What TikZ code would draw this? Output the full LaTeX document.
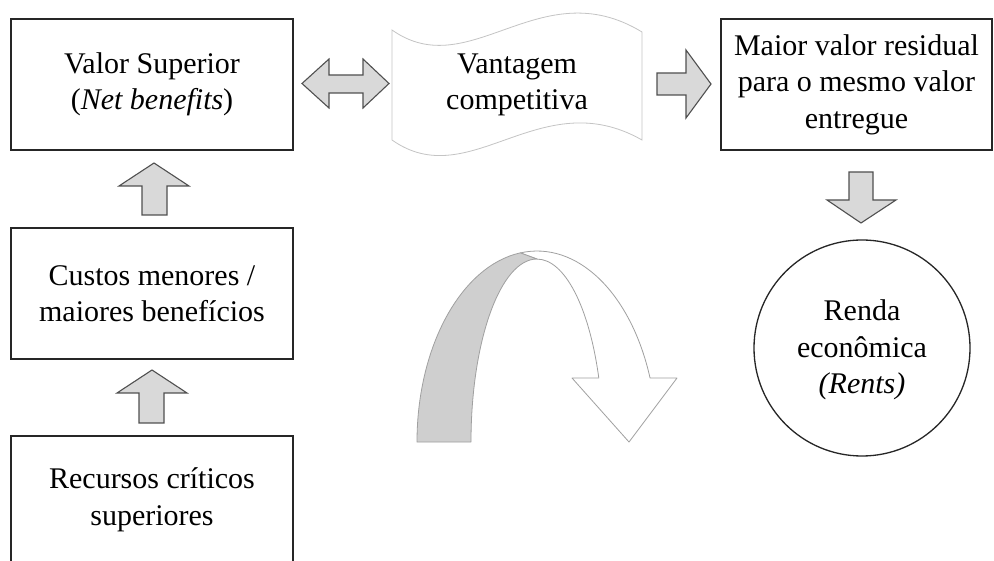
\documentclass[tikz,border=0pt]{standalone}
\usepackage{fontspec}
\setmainfont{Liberation Serif}
\definecolor{arrowfill}{HTML}{D9D9D9}
\definecolor{arrowline}{HTML}{505050}
\definecolor{ribbonline}{HTML}{A0A0A0}
\definecolor{ribbonfill}{HTML}{CFCFCF}
\definecolor{flagline}{HTML}{C4C4C4}
\begin{document}
\begin{tikzpicture}[x=1pt,y=-1pt,
  box/.style={draw=black!85, line width=1.3pt, rectangle, align=center, inner sep=0pt,
              font=\fontsize{30}{36.5}\selectfont},
  txt/.style={align=center, inner sep=0pt, font=\fontsize{30}{36.5}\selectfont},
  blockarrow/.style={draw=arrowline, fill=arrowfill, line width=1.1pt, line join=miter},
  ribbon/.style={draw=ribbonline, line width=0.8pt, line join=round}]
\clip (0,0) rectangle (994,561);
\fill[white] (0,0) rectangle (994,561);

% left column boxes
\node[box, minimum width=282pt, minimum height=131pt] (valor) at (152,84.5)
  {Valor Superior\\(\textit{Net benefits})};
\node[box, minimum width=282pt, minimum height=131pt] (custos) at (152,293.5)
  {Custos menores /\\maiores benefícios};
\node[box, minimum width=282pt, minimum height=128pt] (recursos) at (152,500)
  {Recursos críticos\\superiores};

% up arrows
\draw[blockarrow] (142,215) -- (142,186) -- (119,186) -- (154,163) -- (189,186)
  -- (167,186) -- (167,215) -- cycle;
\draw[blockarrow] (139,423) -- (139,393) -- (117,393) -- (152,370) -- (187,393)
  -- (164,393) -- (164,423) -- cycle;

% double arrow
\draw[blockarrow] (302,83.5) -- (329,59) -- (329,75) -- (363,75) -- (363,59)
  -- (389,83.5) -- (363,108) -- (363,93) -- (329,93) -- (329,108) -- cycle;

% wave flag
\draw[draw=flagline, line width=0.8pt, fill=white]
  (392,30) .. controls (470,85) and (540,-30) .. (642,32)
  -- (642,140) .. controls (540,82) and (470,195) .. (392,140) -- cycle;
\node[txt] (vantagem) at (517,85) {Vantagem\\competitiva};

% right arrow
\draw[blockarrow] (657,73) -- (686,73) -- (686,50) -- (711,84) -- (686,118)
  -- (686,95) -- (657,95) -- cycle;

% right box
\node[box, minimum width=271pt, minimum height=131pt] (maior) at (856.5,84.5)
  {Maior valor residual\\para o mesmo valor\\entregue};

% down arrow
\draw[blockarrow] (849,172) -- (873,172) -- (873,200) -- (896,200) -- (861,223)
  -- (827,200) -- (849,200) -- cycle;

% circle
\node[draw=black!85, line width=1.3pt, circle, minimum size=216pt, inner sep=0pt] (renda) at (862,348) {};
\node[txt] (rendatxt) at (862,350) {Renda\\econômica\\\textit{(Rents)}};

% curved arrow (white front part)
\draw[ribbon, fill=white] (520.3,252.9)
  arc[start angle=262, end angle=340.4, x radius=120, y radius=191]
  -- (677,378) -- (629,442) -- (572,378) -- (598.8,378)
  arc[start angle=339.5, end angle=270, x radius=66, y radius=183]
  -- cycle;
% curved arrow (gray back part)
\draw[ribbon, fill=ribbonfill] (417,442)
  arc[start angle=180, end angle=262, x radius=120, y radius=191]
  -- (537,259)
  arc[start angle=270, end angle=180, x radius=66, y radius=183]
  -- cycle;
\end{tikzpicture}
\end{document}
